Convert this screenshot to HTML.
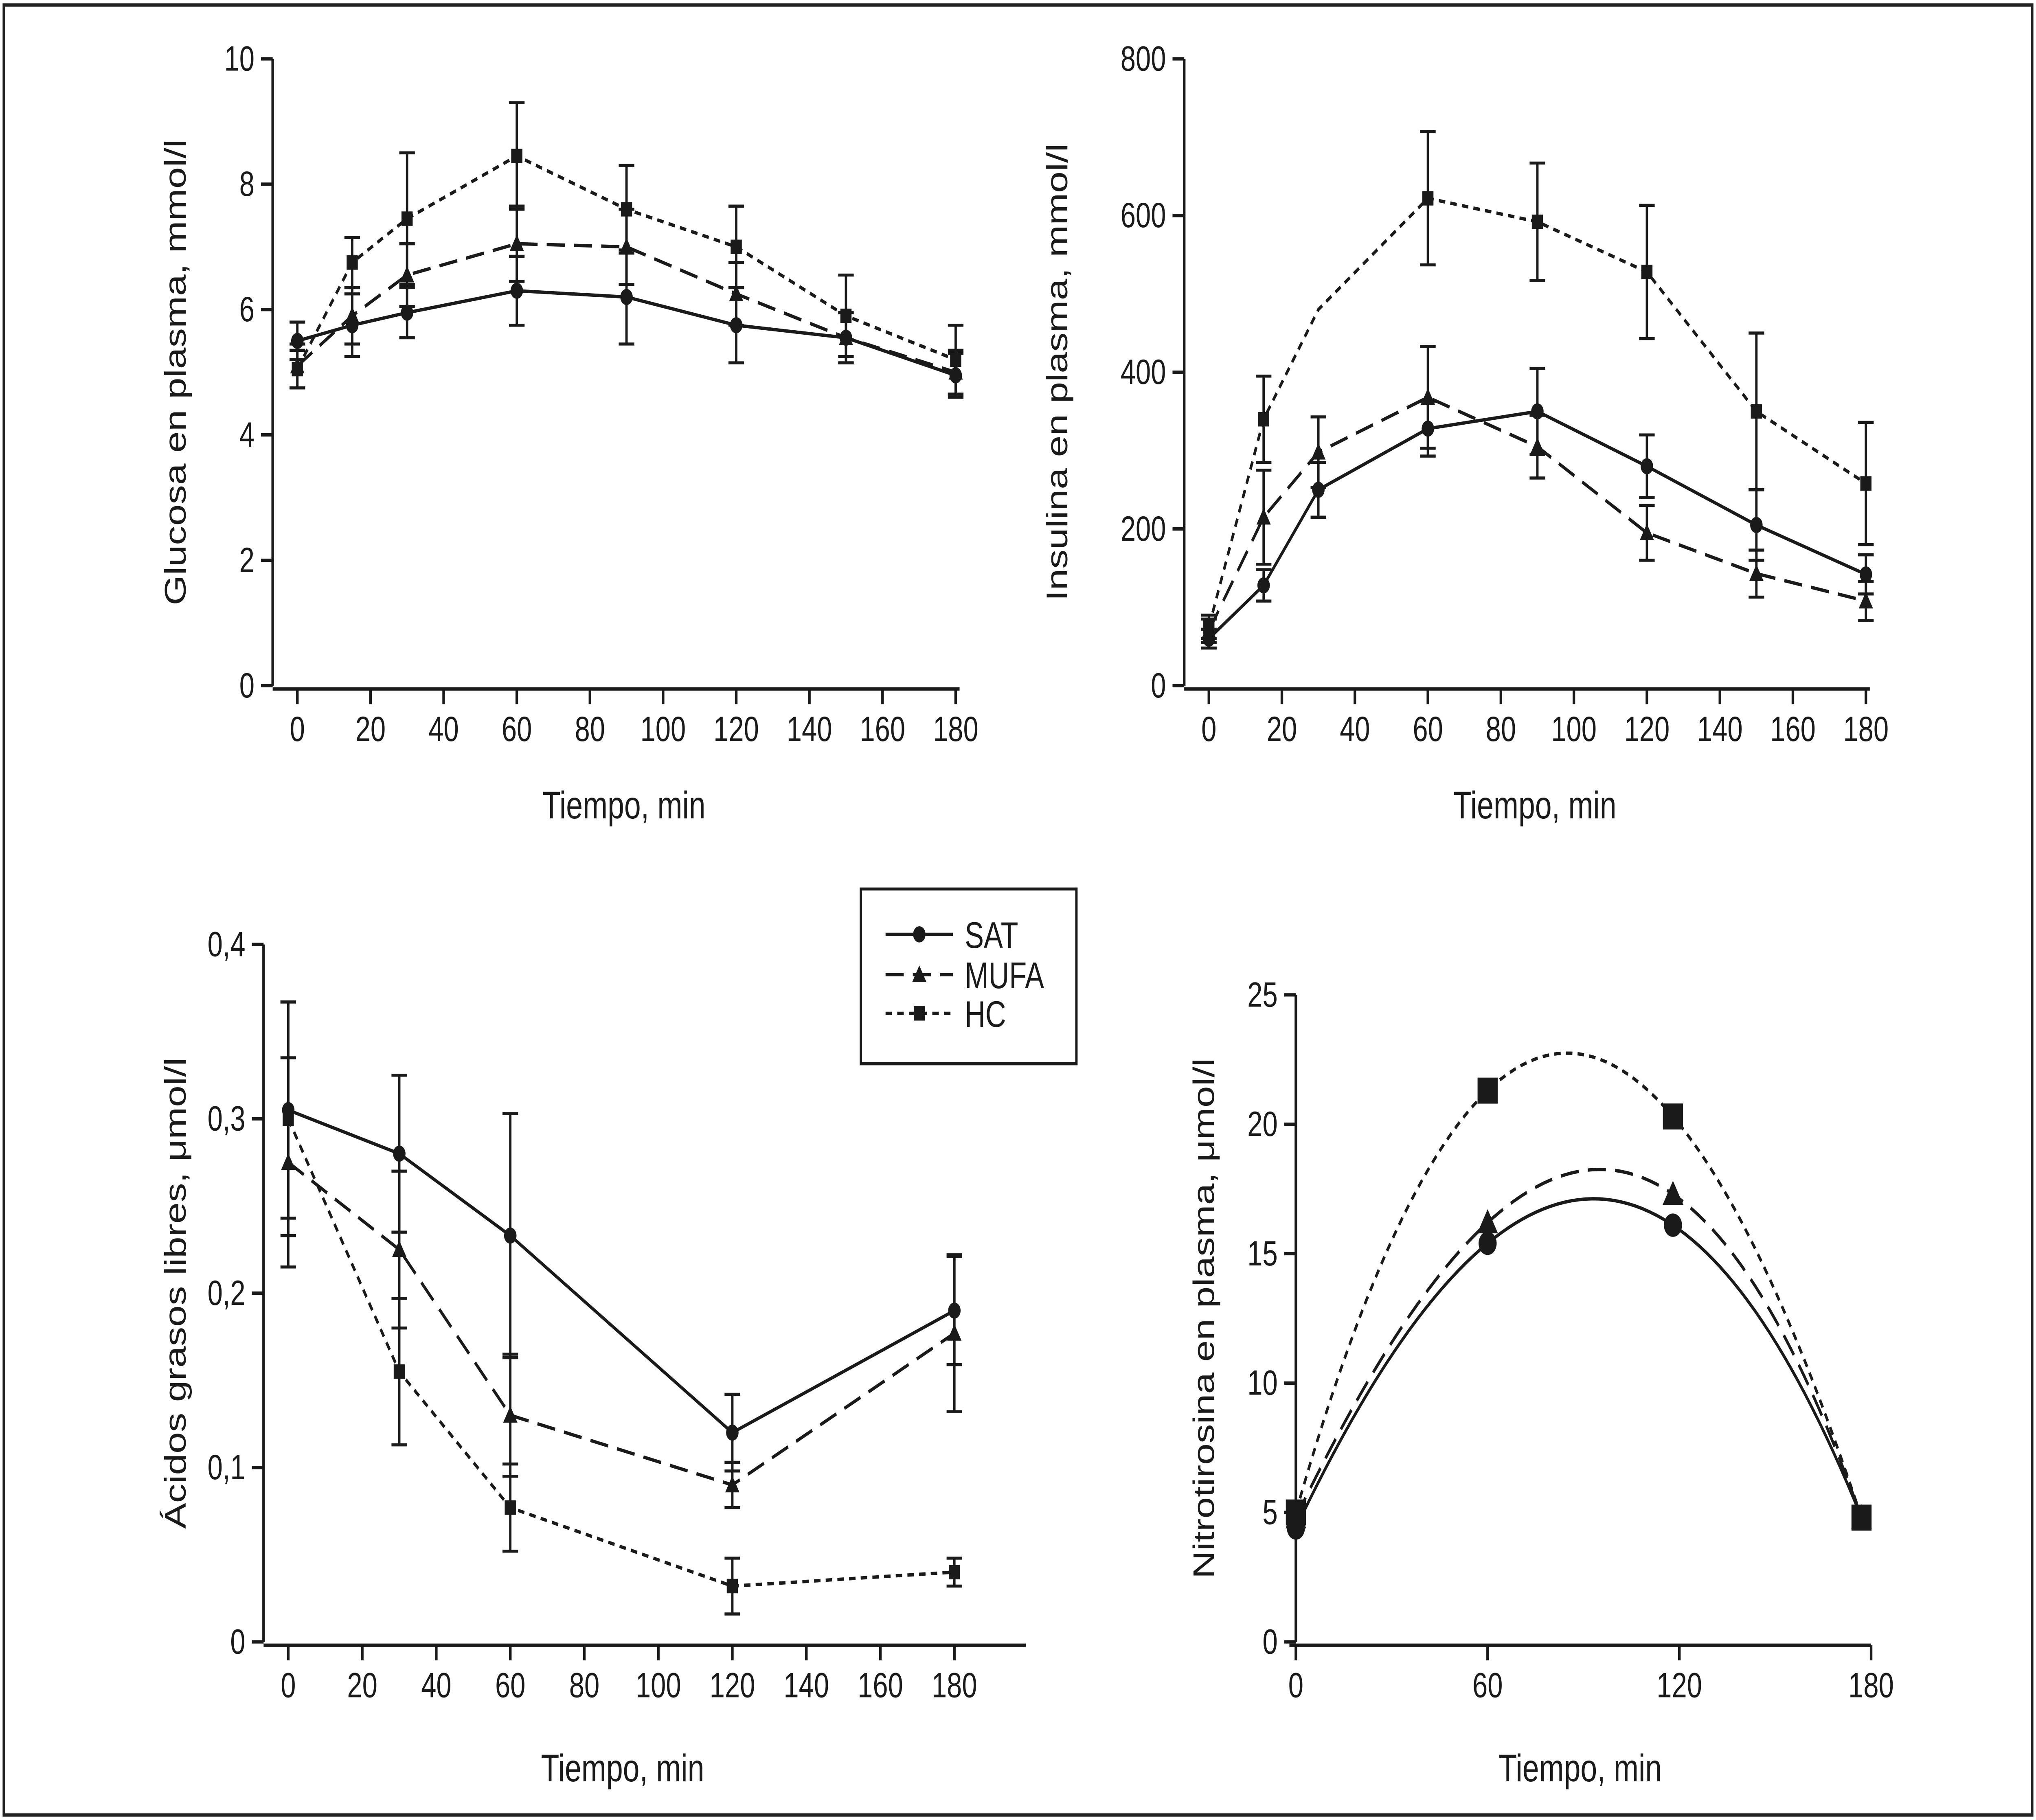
<!DOCTYPE html>
<html><head><meta charset="utf-8"><style>
html,body{margin:0;padding:0;background:#fff;overflow:hidden;width:100vw;height:100vh}
svg{display:block;position:absolute;left:0;top:0;width:100vw;height:100vh}
text{font-family:"Liberation Sans",sans-serif;fill:#1a1a1a}
</style></head><body>
<svg id="chart" viewBox="0 0 1568 1083" preserveAspectRatio="none" xmlns="http://www.w3.org/2000/svg">
<rect x="3" y="3" width="1562" height="1077" fill="#fff" stroke="#222" stroke-width="2"/>
<g id="root"></g>
</svg>
<script>
// ---- Panel A: glucose ----
const gTimes = [0,15,30,60,90,120,150,180];
const gSAT = [5.5,5.75,5.95,6.3,6.2,5.75,5.55,4.95];
const gSATe = [0.3,0.5,0.4,0.55,0.75,0.6,0.4,0.35];
const gMUFA = [5.1,5.9,6.55,7.05,7.0,6.25,5.55,5.0];
const gMUFAe = [0.35,0.45,0.5,0.6,0.6,0.5,0.4,0.35];
const gHC = [5.05,6.75,7.45,8.45,7.6,7.0,5.9,5.2];
const gHCe = [0.3,0.4,1.05,0.85,0.7,0.65,0.65,0.55];
const gYTicks = [0,2,4,6,8,10];
const gXTicks = [0,20,40,60,80,100,120,140,160,180];
// ---- Panel B: insulin ----
const iTimes = [0,15,30,60,90,120,150,180];
const iSAT = [60,128,250,328,350,280,205,142];
const iSATe = [12,20,35,35,55,40,45,25];
const iMUFA = [70,215,298,368,305,195,143,108];
const iMUFAe = [15,60,45,65,40,35,30,25];
const iHC = [75,340,480,622,592,528,350,258];
const iHCe = [15,55,0,85,75,85,100,78];
const iHCmark = [1,1,0,1,1,1,1,1];
const iYTicks = [0,200,400,600,800];
// ---- Panel C: free fatty acids ----
const aTimes = [0,30,60,120,180];
const aSAT = [0.305,0.28,0.233,0.12,0.19];
const aSATe = [0.062,0.045,0.07,0.022,0.031];
const aMUFA = [0.275,0.225,0.13,0.09,0.177];
const aMUFAe = [0.06,0.045,0.035,0.013,0.045];
const aHC = [0.30,0.155,0.077,0.032,0.04];
const aHCe = [0.067,0.042,0.025,0.016,0.008];
const aYTicks = [0,0.1,0.2,0.3,0.4];
const aYLabels = ["0","0,1","0,2","0,3","0,4"];
// ---- Panel D: nitrotyrosine ----
const nTimes = [0,60,118,177];
const nSAT = [4.4,15.4,16.1,4.8];
const nMUFA = [4.8,16.2,17.3,4.8];
const nHC = [5.0,21.3,20.3,4.8];
const nYTicks = [0,5,10,15,20,25];
const nXTicks = [0,60,120,180];

const NS="http://www.w3.org/2000/svg";
const root=document.getElementById('root');
function el(tag,attrs,parent){const e=document.createElementNS(NS,tag);for(const k in attrs)e.setAttribute(k,attrs[k]);(parent||root).appendChild(e);return e;}
function lin(d0,d1,r0,r1){return v=>r0+(v-d0)*(r1-r0)/(d1-d0);}
const dashes={SAT:"none",MUFA:"14,7",HC:"5,4"};

function marker(g,kind,x,y,s){
  let m;
  if(kind==='SAT'){m=el('circle',{cx:x,cy:y,r:4.8*s,fill:'#1a1a1a'},g);}
  else if(kind==='MUFA'){const r=5.5*s;m=el('polygon',{points:`${x},${y-r} ${x+r},${y+r*0.8} ${x-r},${y+r*0.8}`,fill:'#1a1a1a'},g);}
  else {const r=4.3*s;m=el('rect',{x:x-r,y:y-r,width:2*r,height:2*r,fill:'#1a1a1a'},g);}
  
  
}

function axes(g,cfg){
  const {xs,ys,x0,x1,yb,yt,xAxisY,yAxisX,yTicks,yLabels,xTicks,ylabel,xlabel,xlabelY,ylabelX}=cfg;
  const ya=el('line',{x1:yAxisX,y1:ys(yTicks[0]),x2:yAxisX,y2:ys(yTicks[yTicks.length-1]),stroke:'#1a1a1a','stroke-width':2},g);
  
  yTicks.forEach((t,i)=>{const y=ys(t);
    el('line',{x1:yAxisX-9,y1:y,x2:yAxisX,y2:y,stroke:'#1a1a1a','stroke-width':2},g);
    const tx=el('text',{x:yAxisX-14,y:y+7,'text-anchor':'end','font-size':21},g);tx.textContent=yLabels?yLabels[i]:t;
    });
  const xa=el('line',{x1:x0,y1:xAxisY,x2:x1,y2:xAxisY,stroke:'#1a1a1a','stroke-width':2},g);
  
  xTicks.forEach(t=>{const x=xs(t);
    el('line',{x1:x,y1:xAxisY,x2:x,y2:xAxisY+9,stroke:'#1a1a1a','stroke-width':2},g);
    const tx=el('text',{x:x,y:xAxisY+31,'text-anchor':'middle','font-size':21},g);tx.textContent=t;
    });
  const xl=el('text',{x:(x0+x1)/2+(cfg.xlOff||0),y:xlabelY,'text-anchor':'middle','font-size':23},g);xl.textContent=xlabel;
  
  const cy=(yb+yt)/2;
  const yl=el('text',{x:ylabelX,y:cy,'text-anchor':'middle','font-size':23,transform:`rotate(-90 ${ylabelX} ${cy})`},g);yl.textContent=ylabel;
  
}

function series(g,kind,times,vals,errs,xs,ys,marks){
  const pts=times.map((t,i)=>[xs(t),ys(vals[i])]);
  const p=el('polyline',{points:pts.map(p=>p.join(',')).join(' '),fill:'none',stroke:'#1a1a1a','stroke-width':2,'stroke-dasharray':dashes[kind]},g);
  
  times.forEach((t,i)=>{
    const x=xs(t);
    if(errs&&errs[i]>0){const y1=ys(vals[i]-errs[i]),y2=ys(vals[i]+errs[i]);
      const e=el('path',{d:`M${x},${y1}V${y2}M${x-6},${y1}H${x+6}M${x-6},${y2}H${x+6}`,stroke:'#1a1a1a','stroke-width':1.8,fill:'none'},g);
      }
    if(!marks||marks[i])marker(g,kind,x,ys(vals[i]),1);
  });
}

// Panel A
{const g=el('g',{});
const xs=lin(0,180,229,736), ys=lin(0,10,408,35);
axes(g,{xs,ys,x0:210,x1:739,yb:408,yt:35,xAxisY:410,yAxisX:210,yTicks:gYTicks,xTicks:gXTicks,ylabel:'Glucosa en plasma, mmol/l',xlabel:'Tiempo, min',xlabelY:487,ylabelX:143,xlOff:6});
series(g,'SAT',gTimes,gSAT,gSATe,xs,ys);series(g,'MUFA',gTimes,gMUFA,gMUFAe,xs,ys);series(g,'HC',gTimes,gHC,gHCe,xs,ys);}
// Panel B
{const g=el('g',{});
const xs=lin(0,180,931,1437), ys=lin(0,800,408,35);
axes(g,{xs,ys,x0:912,x1:1440,yb:408,yt:35,xAxisY:410,yAxisX:912,yTicks:iYTicks,xTicks:gXTicks,ylabel:'Insulina en plasma, mmol/l',xlabel:'Tiempo, min',xlabelY:487,ylabelX:822,xlOff:6});
series(g,'SAT',iTimes,iSAT,iSATe,xs,ys);series(g,'MUFA',iTimes,iMUFA,iMUFAe,xs,ys);series(g,'HC',iTimes,iHC,iHCe,xs,ys,iHCmark);}
// Panel C
{const g=el('g',{});
const xs=lin(0,180,222,735), ys=lin(0,0.4,977,562);
axes(g,{xs,ys,x0:203,x1:790,yb:977,yt:562,xAxisY:979,yAxisX:203,yTicks:aYTicks,yLabels:aYLabels,xTicks:gXTicks,ylabel:'Ácidos grasos libres, μmol/l',xlabel:'Tiempo, min',xlabelY:1060,ylabelX:143,xlOff:-17});
series(g,'SAT',aTimes,aSAT,aSATe,xs,ys);series(g,'MUFA',aTimes,aMUFA,aMUFAe,xs,ys);series(g,'HC',aTimes,aHC,aHCe,xs,ys);
const lg=el('g',{},g);
el('rect',{x:663,y:529,width:166,height:104,fill:'#fff',stroke:'#1a1a1a','stroke-width':1.8},lg);
[['SAT',556],['MUFA',580],['HC',603]].forEach(([k,y])=>{
  const e=el('g',{},lg);
  el('line',{x1:682,y1:y,x2:734,y2:y,stroke:'#1a1a1a','stroke-width':2,'stroke-dasharray':dashes[k]},e);
  marker(e,k,708,y,1);
  const t=el('text',{x:743,y:y+8,'font-size':22},e);t.textContent=k;});}
// Panel D
{const g=el('g',{});
const xs=lin(0,180,998,1441), ys=lin(0,25,977,592);
axes(g,{xs,ys,x0:993,x1:1441,yb:977,yt:592,xAxisY:979,yAxisX:998,yTicks:nYTicks,xTicks:nXTicks,ylabel:'Nitrotirosina en plasma, μmol/l',xlabel:'Tiempo, min',xlabelY:1060,ylabelX:935,xlOff:0});
function lagr(ts,vs,t){let s=0;for(let i=0;i<ts.length;i++){let l=1;for(let j=0;j<ts.length;j++)if(j!==i)l*=(t-ts[j])/(ts[i]-ts[j]);s+=l*vs[i];}return s;}
function curve(kind,vals){
  const t0=nTimes[0],t1=nTimes[nTimes.length-1],N=80;let d='';
  for(let i=0;i<=N;i++){const t=t0+(t1-t0)*i/N;d+=(i?'L':'M')+xs(t).toFixed(2)+','+ys(lagr(nTimes,vals,t)).toFixed(2);}
  const c=el('path',{d,fill:'none',stroke:'#1a1a1a','stroke-width':2,'stroke-dasharray':dashes[kind]},g);
  
  nTimes.forEach((t,i)=>marker(g,kind,xs(t),ys(vals[i]),kind==='HC'?1.8:1.45));}
curve('SAT',nSAT);curve('MUFA',nMUFA);curve('HC',nHC);}
</script>
</body></html>
